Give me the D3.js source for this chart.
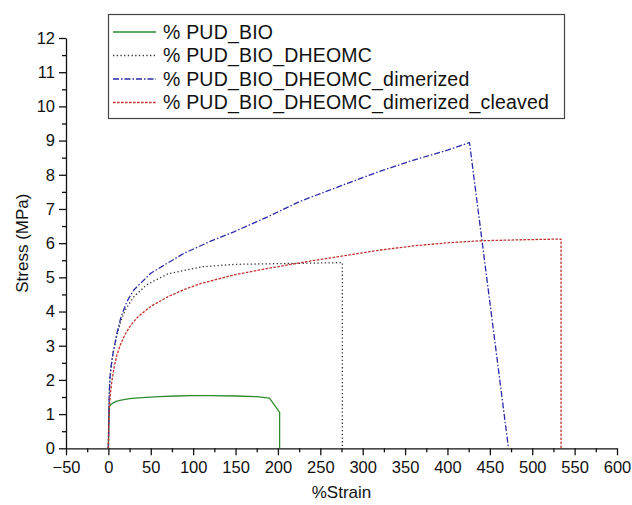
<!DOCTYPE html>
<html>
<head>
<meta charset="utf-8">
<script src="https://cdn.jsdelivr.net/npm/d3@7"></script>
<style>
  html, body { margin: 0; padding: 0; background: #fff; }
  svg { display: block; font-family: "Liberation Sans", Arial, sans-serif; }
</style>
</head>
<body>
<svg id="chart" width="632" height="505"></svg>
<script>
// Tensile test curves: stress (MPa) against % strain for four PUD films
const seriesNames = [
  "% PUD_BIO",
  "% PUD_BIO_DHEOMC",
  "% PUD_BIO_DHEOMC_dimerized",
  "% PUD_BIO_DHEOMC_dimerized_cleaved"
];

const strainBio = [0, 0.5, 1, 2, 5, 10, 15, 25, 40, 60, 80, 100, 120, 150, 175, 190, 202, 202];
const stressBio = [0, 0.8, 1.2, 1.26, 1.32, 1.38, 1.41, 1.45, 1.48, 1.51, 1.53, 1.54, 1.54, 1.53, 1.51, 1.47, 1.05, 0];

const strainDheomc = [0, 0.5, 1, 2, 4, 6, 10, 15, 20, 30, 45, 70, 110, 150, 200, 250, 276, 276];
const stressDheomc = [0, 1.0, 1.6, 2.1, 2.55, 2.85, 3.3, 3.75, 4.05, 4.43, 4.78, 5.1, 5.31, 5.38, 5.4, 5.42, 5.43, 0];

const strainDimer = [0, 0.5, 1, 2, 4, 6, 10, 15, 22, 30, 50, 70, 89, 120, 148, 188, 225, 282, 320, 360, 400, 426, 472];
const stressDimer = [0, 1.0, 1.6, 2.1, 2.55, 2.85, 3.36, 3.85, 4.3, 4.63, 5.12, 5.42, 5.7, 6.05, 6.33, 6.77, 7.21, 7.75, 8.1, 8.43, 8.72, 8.94, 0];

const strainCleaved = [0, 0.5, 1, 2, 4, 7, 10, 14, 20, 27, 35, 50, 70, 90, 109, 148, 188, 227, 270, 321, 360, 400, 440, 490, 534, 534];
const stressCleaved = [0, 0.7, 1.1, 1.5, 1.95, 2.4, 2.72, 3.02, 3.35, 3.62, 3.85, 4.15, 4.43, 4.65, 4.82, 5.07, 5.26, 5.43, 5.6, 5.8, 5.92, 6.01, 6.07, 6.1, 6.12, 0];

const xTicks = [-50, 0, 50, 100, 150, 200, 250, 300, 350, 400, 450, 500, 550, 600];
const yTicks = [0, 1, 2, 3, 4, 5, 6, 7, 8, 9, 10, 11, 12];

const series = [
  { name: seriesNames[0], x: strainBio, y: stressBio, color: "#2e8b2e", dash: null, width: 1.3 },
  { name: seriesNames[1], x: strainDheomc, y: stressDheomc, color: "#333333", dash: "1.3,2.4", width: 1.3 },
  { name: seriesNames[2], x: strainDimer, y: stressDimer, color: "#2a2aa8", dash: "6,2,1.5,2", width: 1.3 },
  { name: seriesNames[3], x: strainCleaved, y: stressCleaved, color: "#c0302c", dash: "2.6,1.4", width: 1.3 }
];

const svg = d3.select("#chart");

const x = d3.scaleLinear().domain([-50, 600]).range([66, 617]);
const y = d3.scaleLinear().domain([0, 12]).range([448.3, 38]);

const fmt = v => v < 0 ? "\u2212" + Math.abs(v) : String(v);

// Minor ticks between labelled ones
const xMinor = d3.range(-25, 600, 50);
const yMinor = d3.range(0.5, 12, 1);

svg.append("g")
  .attr("transform", `translate(0,${y(0)})`)
  .call(d3.axisBottom(x).tickValues(xTicks).tickFormat(fmt).tickSizeInner(7).tickSizeOuter(0).tickPadding(6));
svg.append("g")
  .attr("transform", `translate(0,${y(0)})`)
  .call(d3.axisBottom(x).tickValues(xMinor).tickFormat("").tickSizeInner(4).tickSizeOuter(0))
  .select(".domain").remove();

svg.append("g")
  .attr("transform", `translate(${x(-50)},0)`)
  .call(d3.axisLeft(y).tickValues(yTicks).tickFormat(fmt).tickSizeInner(7).tickSizeOuter(0).tickPadding(4));
svg.append("g")
  .attr("transform", `translate(${x(-50)},0)`)
  .call(d3.axisLeft(y).tickValues(yMinor).tickFormat("").tickSizeInner(4).tickSizeOuter(0))
  .select(".domain").remove();

svg.selectAll(".domain, .tick line").attr("stroke", "#111").attr("stroke-width", 1.3);
svg.selectAll(".tick text")
  .attr("fill", "#111")
  .style("font-size", "16.5px")
  .style("font-family", "'Liberation Sans', Arial, sans-serif");

// Axis titles
svg.append("text")
  .attr("x", (x(-50) + x(600)) / 2)
  .attr("y", 498)
  .attr("text-anchor", "middle")
  .style("font-size", "17px")
  .attr("fill", "#111")
  .text("%Strain");

svg.append("text")
  .attr("transform", `translate(28,${(y(0) + y(12)) / 2}) rotate(-90)`)
  .attr("text-anchor", "middle")
  .style("font-size", "17px")
  .attr("fill", "#111")
  .text("Stress (MPa)");

// Curves
const line = d3.line()
  .x(d => x(d[0]))
  .y(d => y(d[1]));

svg.append("g").selectAll("path")
  .data(series)
  .join("path")
  .attr("d", s => line(s.x.map((v, i) => [v, s.y[i]])))
  .attr("fill", "none")
  .attr("stroke", s => s.color)
  .attr("stroke-width", s => s.width)
  .attr("stroke-dasharray", s => s.dash)
  .attr("stroke-linejoin", "round");

// Legend
const legend = svg.append("g");
legend.append("rect")
  .attr("x", 108.5).attr("y", 14.5)
  .attr("width", 456).attr("height", 104)
  .attr("fill", "#fff")
  .attr("stroke", "#444")
  .attr("stroke-width", 1.2);

const rowY = [32, 55.5, 79, 102.5];
const item = legend.selectAll("g.item")
  .data(series)
  .join("g")
  .attr("class", "item")
  .attr("transform", (d, i) => `translate(0,${rowY[i]})`);
item.append("line")
  .attr("x1", 113).attr("x2", 156)
  .attr("y1", 0).attr("y2", 0)
  .attr("stroke", d => d.color)
  .attr("stroke-width", d => d.width)
  .attr("stroke-dasharray", d => d.dash);
item.append("text")
  .attr("x", 163)
  .attr("y", 0)
  .attr("dy", "0.35em")
  .style("font-size", "19.5px")
  .style("letter-spacing", "0.2px")
  .attr("fill", "#111")
  .text(d => d.name);
</script>
</body>
</html>
